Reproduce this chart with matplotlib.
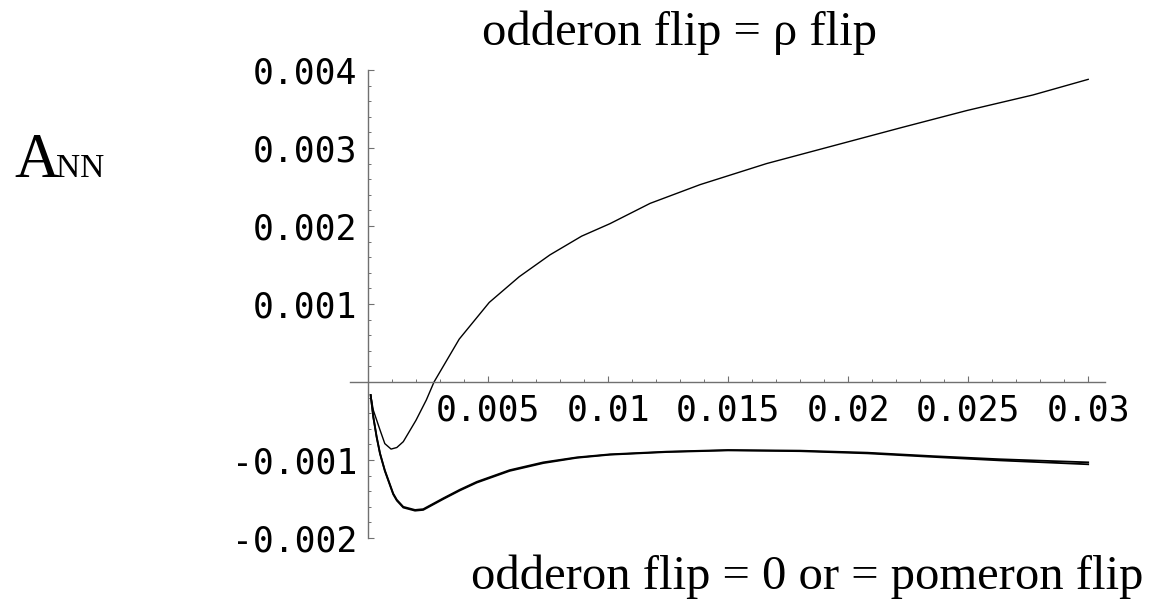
import matplotlib
matplotlib.use("Agg")
import matplotlib.pyplot as plt
from matplotlib.ticker import FixedLocator, MultipleLocator

# ---- data ----
x_rho = [0.00011, 0.00022, 0.0005, 0.0007, 0.00096, 0.0012, 0.00147, 0.002, 0.00243,
         0.00275, 0.0038, 0.00505, 0.0063, 0.00758, 0.0089, 0.01008, 0.01175,
         0.01383, 0.0166, 0.0194, 0.0222, 0.02494, 0.0277, 0.03]
y_rho = [-0.000167, -0.00036, -0.000615, -0.00079, -0.00086, -0.00084, -0.000765,
         -0.00049, -0.00023, 0.0, 0.00055, 0.00102, 0.00135, 0.00163, 0.00187,
         0.00203, 0.00229, 0.00253, 0.0028, 0.00303, 0.00326, 0.00348, 0.00368,
         0.00388]

x_low = [0.00011, 0.00022, 0.00036, 0.0005, 0.0007, 0.00105, 0.0012, 0.00147, 0.00196,
         0.0023, 0.00314, 0.00383, 0.00453, 0.0059, 0.0073, 0.0087, 0.01008,
         0.01244, 0.015, 0.018, 0.0208, 0.0235, 0.0263, 0.03]
y_zero = [-0.000167, -0.000444, -0.0007, -0.000914, -0.00113, -0.00143, -0.00151,
          -0.0016, -0.00164, -0.00163, -0.00149, -0.00138, -0.00128, -0.00113,
          -0.00103, -0.000966, -0.000927, -0.000893, -0.000872, -0.00088,
          -0.000906, -0.00095, -0.00099, -0.00103]
y_pom = [-0.000167, -0.00045, -0.00071, -0.00092, -0.00114, -0.00144, -0.00152,
         -0.00161, -0.00165, -0.00164, -0.0015, -0.00139, -0.00129, -0.00114,
         -0.00104, -0.000972, -0.000932, -0.000898, -0.000877, -0.000887,
         -0.000915, -0.00096, -0.001005, -0.001055]

x_major = [0.005, 0.01, 0.015, 0.02, 0.025, 0.03]
x_labels = ["0.005", "0.01", "0.015", "0.02", "0.025", "0.03"]
y_major = [-0.002, -0.001, 0.001, 0.002, 0.003, 0.004]
y_labels = ["-0.002", "-0.001", "0.001", "0.002", "0.003", "0.004"]

W, H = 1160, 605
fig = plt.figure(figsize=(W / 100, H / 100), dpi=100)
ax = fig.add_axes([350 / W, (H - 538) / H, 755 / W, 468 / H])
ax.set_xlim(-0.00075, 0.0307)
ax.set_ylim(-0.002, 0.004)

ax.plot(x_rho, y_rho, color="black", lw=1.0)
ax.plot(x_low, y_zero, color="black", lw=1.3)
ax.plot(x_low, y_pom, color="black", lw=1.3)

for s in ("top", "right"):
    ax.spines[s].set_visible(False)
ax.spines["left"].set_position(("data", 0))
ax.spines["bottom"].set_position(("data", 0))
spc = "#707070"
ax.spines["left"].set_color(spc)
ax.spines["bottom"].set_color(spc)
ax.spines["left"].set_linewidth(1.0)
ax.spines["bottom"].set_linewidth(1.0)

ax.xaxis.set_major_locator(FixedLocator(x_major))
ax.xaxis.set_minor_locator(MultipleLocator(0.001))
ax.yaxis.set_major_locator(FixedLocator(y_major))
ax.yaxis.set_minor_locator(MultipleLocator(0.0002))
ax.set_xticklabels(x_labels)
ax.set_yticklabels(y_labels)

mono = "DejaVu Sans Mono"
ax.tick_params(axis="both", which="major", direction="in", length=4.5, width=0.8,
               color=spc, pad=8, labelsize=25, labelcolor="black")
ax.tick_params(axis="both", which="minor", direction="in", length=2.3, width=0.7,
               color=spc)
for lab in ax.get_xticklabels() + ax.get_yticklabels():
    lab.set_family(mono)

serif = "Liberation Serif"
fig.text(679 / W, 1 - 45 / H, "odderon flip = \u03c1 flip", family=serif,
         fontsize=35, ha="center", va="baseline")
fig.text(807 / W, 1 - 589 / H, "odderon flip = 0 or = pomeron flip", family=serif,
         fontsize=35, ha="center", va="baseline")
fig.text(14 / W, 1 - 177 / H, "A", family=serif, fontsize=45, ha="left", va="baseline")
fig.text(56 / W, 1 - 177 / H, "NN", family=serif, fontsize=24, ha="left", va="baseline")

fig.savefig("out.png", dpi=100)
